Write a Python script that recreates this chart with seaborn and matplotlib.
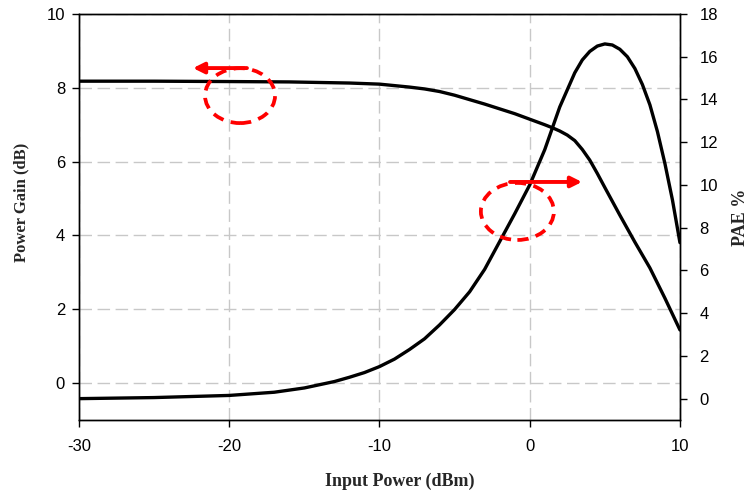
import numpy as np
import pandas as pd
import seaborn as sns
import matplotlib.pyplot as plt
from matplotlib.patches import Ellipse

# values
gain_x = [-30, -25, -20, -16, -12, -10, -8, -7, -6, -5, -4, -3, -2, -1, 0, 1, 1.5, 2, 2.5, 3, 3.5,
          4, 4.5, 5, 6, 7, 8, 9, 10]
gain_db = [8.18, 8.18, 8.17, 8.16, 8.13, 8.10, 8.02, 7.97, 7.90, 7.80, 7.68, 7.56, 7.43, 7.30, 7.15,
           7.00, 6.92, 6.83, 6.72, 6.57, 6.33, 6.04, 5.68, 5.30, 4.55, 3.82, 3.12, 2.30, 1.44]

pae_x = [-30, -25, -20, -17, -15, -13, -12, -11, -10, -9, -8, -7, -6, -5, -4, -3, -2, -1, 0, 1, 2, 3,
         3.5, 4, 4.5, 5, 5.5, 6, 6.5, 7, 7.5, 8, 8.5, 9, 9.5, 10]
pae_pct = [0.0, 0.05, 0.15, 0.3, 0.5, 0.8, 1.0, 1.22, 1.5, 1.85, 2.3, 2.8, 3.45, 4.17, 5.0, 6.05, 7.35,
           8.65, 10.0, 11.65, 13.65, 15.25, 15.85, 16.25, 16.5, 16.6, 16.55, 16.35, 16.0, 15.45, 14.7,
           13.75, 12.5, 11.0, 9.3, 7.3]

x_ticks = [-30, -20, -10, 0, 10]
gain_ticks = [0, 2, 4, 6, 8, 10]
pae_ticks = [0, 2, 4, 6, 8, 10, 12, 14, 16, 18]

df_gain = pd.DataFrame({'pin': gain_x, 'gain': gain_db})
df_pae = pd.DataFrame({'pin': pae_x, 'pae': pae_pct})

sns.set_style('ticks')
plt.rcParams['font.family'] = ['Liberation Sans', 'DejaVu Sans']
plt.rcParams['axes.unicode_minus'] = False

fig = plt.figure(figsize=(7.5, 4.95), dpi=100)
ax = fig.add_axes([0.1053, 0.1515, 0.8013, 0.8202])
ax2 = ax.twinx()

sns.lineplot(data=df_gain, x='pin', y='gain', ax=ax, color='black', lw=2.4)
sns.lineplot(data=df_pae, x='pin', y='pae', ax=ax2, color='black', lw=2.4)

ax.set_xlim(-30, 10)
ax.set_ylim(-1, 10)
ax2.set_ylim(-1, 18)
ax.set_xticks(x_ticks)
ax.set_yticks(gain_ticks)
ax2.set_yticks(pae_ticks)

ax.grid(True, color='#c8c8c8', lw=1.0, linestyle=(0, (9, 4)))

for a in (ax, ax2):
    for s in a.spines.values():
        s.set_color('black')
        s.set_linewidth(1.0)
    a.tick_params(labelsize=12, length=5, width=1, colors='black')
ax.tick_params(axis='x', pad=9)
ax.tick_params(axis='y', pad=5)
ax2.tick_params(axis='y', pad=9)

lab_font = dict(family='Liberation Serif', fontweight='bold', fontsize=13)
ax.set_xlabel('Input Power (dBm)', **lab_font)
ax.set_ylabel('Power Gain (dB)', fontfamily='Liberation Serif', fontweight='bold', fontsize=12)
ax2.set_ylabel('PAE %', **lab_font)
ax.xaxis.set_label_coords(0.534, -0.13)
ax.yaxis.set_label_coords(-0.083, 0.537)
ax2.yaxis.set_label_coords(1.087, 0.5)

# red dashed circles with arrows marking which axis each curve belongs to
red = '#ff0000'
dash = (0, (3.0, 2.0))
ax2.add_patch(Ellipse((-19.28, 14.18), 4.66, 2.57, fill=False, ec=red, lw=2.7, ls=dash, zorder=5))
ax2.add_patch(Ellipse((-0.82, 8.76), 4.86, 2.67, fill=False, ec=red, lw=2.7, ls=dash, zorder=5))
arrow = dict(arrowstyle='-|>', color=red, lw=2.8, mutation_scale=16, shrinkA=0, shrinkB=0)
ax2.annotate('', xy=(-22.41, 15.47), xytext=(-18.82, 15.47), arrowprops=arrow, zorder=6)
ax2.annotate('', xy=(3.48, 10.14), xytext=(-1.31, 10.14), arrowprops=arrow, zorder=6)

fig.savefig('out.png', dpi=100)
